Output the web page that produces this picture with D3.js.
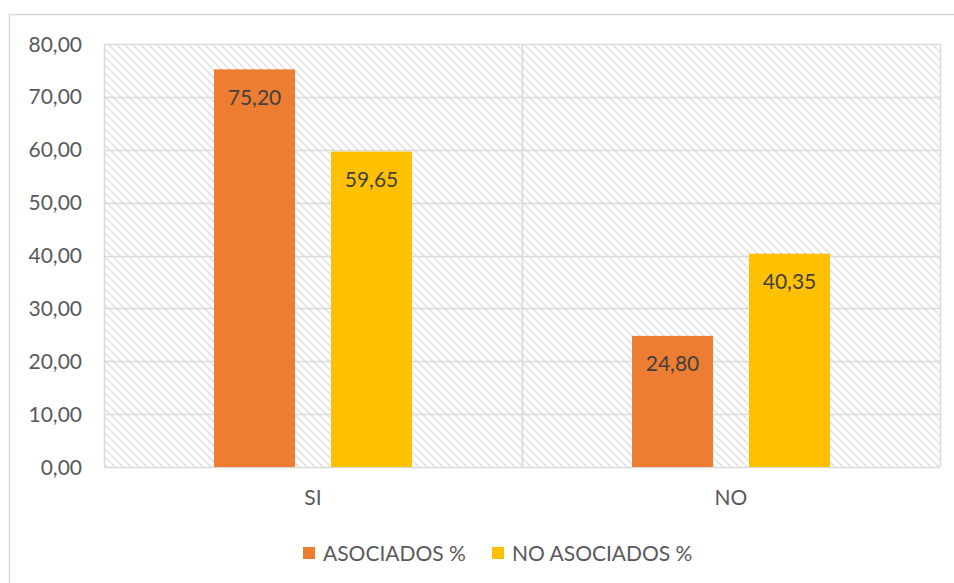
<!DOCTYPE html>
<html>
<head>
<meta charset="utf-8">
<script src="https://cdn.jsdelivr.net/npm/d3@7"></script>
<style>
  html, body { margin: 0; padding: 0; background: #fff; }
  svg { display: block; font-family: Lato, "Open Sans", sans-serif; }
</style>
</head>
<body>
<svg id="chart" width="954" height="583"></svg>
<script>
const categories = ["SI", "NO"];
const seriesNames = ["ASOCIADOS %", "NO ASOCIADOS %"];
const asociados = [75.20, 24.80];
const noAsociados = [59.65, 40.35];
const yTicks = [0, 10, 20, 30, 40, 50, 60, 70, 80];
const colors = ["#ED7D31", "#FFC000"];

const series = [asociados, noAsociados];
const fmt = v => v.toFixed(2).replace(".", ",");

const svg = d3.select("#chart");
const plot = { left: 104, right: 940, top: 44, bottom: 467 };

// outer chart frame
svg.append("rect")
  .attr("x", 9.5).attr("y", 14.5)
  .attr("width", 960).attr("height", 600)
  .attr("fill", "#fff").attr("stroke", "#d9d9d9").attr("stroke-width", 1.5);

// hatch pattern
const defs = svg.append("defs");
const pat = defs.append("pattern")
  .attr("id", "hatch").attr("patternUnits", "userSpaceOnUse")
  .attr("width", 8).attr("height", 8);
pat.append("rect").attr("width", 8).attr("height", 8).attr("fill", "#fff");
pat.append("path")
  .attr("d", "M-2,-2 L10,10 M-2,6 L2,10 M6,-2 L10,2")
  .attr("stroke", "#e4e4e4").attr("stroke-width", 1.8);

const x0 = d3.scaleBand().domain(categories).range([plot.left, plot.right]);
const y = d3.scaleLinear().domain([0, 80]).range([plot.bottom, plot.top]);
const barW = 81, gap = 36;

svg.append("rect")
  .attr("x", plot.left).attr("y", plot.top)
  .attr("width", plot.right - plot.left).attr("height", plot.bottom - plot.top)
  .attr("fill", "url(#hatch)");

// horizontal gridlines
svg.append("g").selectAll("line").data(yTicks).join("line")
  .attr("x1", plot.left).attr("x2", plot.right)
  .attr("y1", d => Math.round(y(d)) + 0.5).attr("y2", d => Math.round(y(d)) + 0.5)
  .attr("stroke", "#d9d9d9").attr("stroke-width", 1.5);

// vertical lines (category boundaries)
const vx = [plot.left, x0(categories[1]), plot.right];
svg.append("g").selectAll("line").data(vx).join("line")
  .attr("x1", d => d + 0.5).attr("x2", d => d + 0.5)
  .attr("y1", plot.top).attr("y2", plot.bottom)
  .attr("stroke", "#d9d9d9").attr("stroke-width", 1.5);

// y tick labels
svg.append("g").selectAll("text").data(yTicks).join("text")
  .attr("x", 82).attr("y", d => y(d))
  .attr("dy", "0.36em")
  .attr("text-anchor", "end")
  .attr("fill", "#595959").attr("font-size", 21)
  .text(d => fmt(d));

// bars
categories.forEach((c, ci) => {
  const cx = x0(c) + x0.bandwidth() / 2;
  const start = cx - (2 * barW + gap) / 2;
  series.forEach((s, si) => {
    const bx = start + si * (barW + gap);
    svg.append("rect")
      .attr("x", bx).attr("y", y(s[ci]))
      .attr("width", barW).attr("height", y(0) - y(s[ci]))
      .attr("fill", colors[si]);
    svg.append("text")
      .attr("x", bx + barW / 2).attr("y", y(s[ci]) + 28)
      .attr("dy", "0.36em")
      .attr("text-anchor", "middle")
      .attr("fill", "#404040").attr("font-size", 21)
      .text(fmt(s[ci]));
  });
  svg.append("text")
    .attr("x", cx).attr("y", 497).attr("dy", "0.36em")
    .attr("text-anchor", "middle")
    .attr("fill", "#595959").attr("font-size", 21)
    .text(c);
});

// legend
const legendX = [303, 492];
seriesNames.forEach((n, i) => {
  svg.append("rect")
    .attr("x", legendX[i]).attr("y", 547)
    .attr("width", 12).attr("height", 12)
    .attr("fill", colors[i]);
  svg.append("text")
    .attr("x", legendX[i] + 20).attr("y", 553).attr("dy", "0.36em")
    .attr("fill", "#595959").attr("font-size", 21)
    .text(n);
});
</script>
</body>
</html>
